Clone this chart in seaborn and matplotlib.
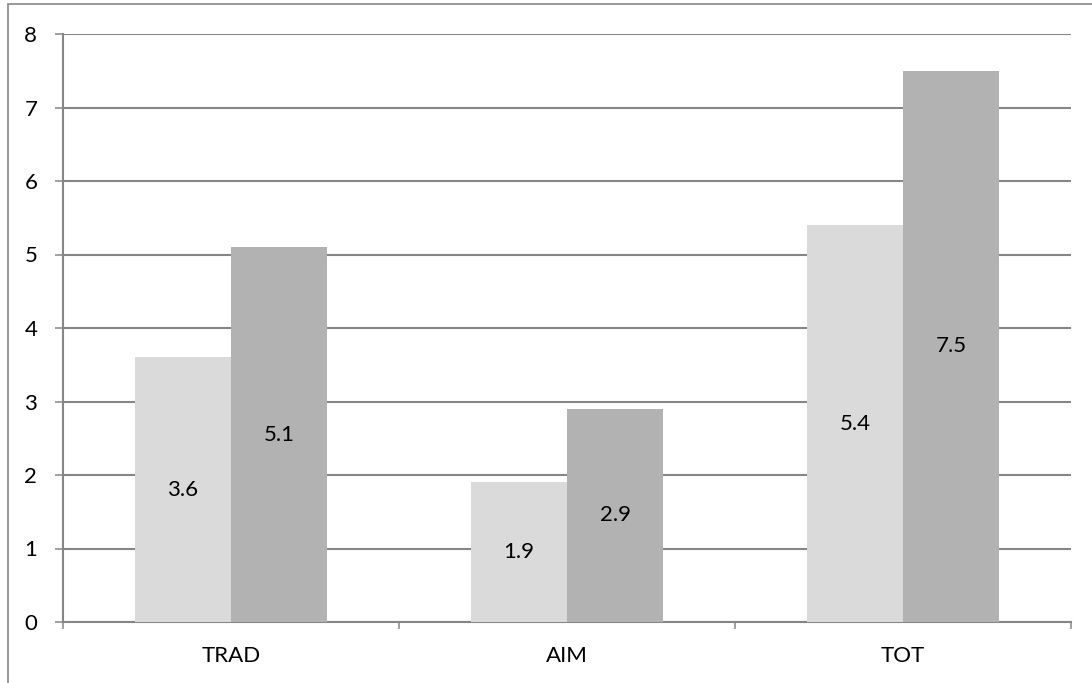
import matplotlib
matplotlib.use("Agg")
import matplotlib.pyplot as plt
import seaborn as sns
import pandas as pd
from matplotlib.patches import Rectangle
from matplotlib.ticker import FixedLocator

categories = ["TRAD", "AIM", "TOT"]
series_names = ["A", "B"]
values_a = [3.6, 1.9, 5.4]
values_b = [5.1, 2.9, 7.5]
y_ticks = [0, 1, 2, 3, 4, 5, 6, 7, 8]

df = pd.DataFrame({
    "cat": categories * 2,
    "series": [series_names[0]] * 3 + [series_names[1]] * 3,
    "value": values_a + values_b,
})

sns.set_theme(style="white")
plt.rcParams["font.family"] = ["Lato", "DejaVu Sans"]

GRID = "#868686"
FS = 16
fig = plt.figure(figsize=(10.92, 6.83), dpi=100)
ax = fig.add_axes([63 / 1092, 1 - 622 / 683, (1071 - 63) / 1092, (622 - 34) / 683])

sns.barplot(data=df, x="cat", y="value", hue="series", order=categories,
            palette=["#DADADA", "#B2B2B2"], width=0.572, saturation=1,
            linewidth=0, legend=False, ax=ax, zorder=3)

ax.set_xlim(-0.5, 2.5)
ax.set_ylim(0, 8)
ax.set_yticks(y_ticks)
ax.yaxis.grid(True, color=GRID, linewidth=1.5, zorder=0)
ax.set_axisbelow(True)
ax.set_xlabel("")
ax.set_ylabel("")

for s in ["top", "right"]:
    ax.spines[s].set_visible(False)
for s in ["left", "bottom"]:
    ax.spines[s].set_color(GRID)
    ax.spines[s].set_linewidth(1.5)

ax.tick_params(axis="y", which="major", direction="out", length=5.5, width=1.1,
               color=GRID, pad=13, labelsize=FS, labelcolor="black", left=True)
ax.tick_params(axis="x", which="major", length=0, pad=17, labelsize=FS,
               labelcolor="black")
ax.xaxis.set_minor_locator(FixedLocator([-0.5, 0.5, 1.5, 2.5]))
ax.tick_params(axis="x", which="minor", direction="out", length=5, width=1.1,
               color=GRID, bottom=True)

for container in ax.containers:
    ax.bar_label(container, labels=[f"{b.get_height():.1f}" for b in container],
                 label_type="center", fontsize=FS, color="black")

# chart frame
fig.patches.append(Rectangle((8 / 1092, -0.1), 1.2, 1.1 - 4 / 683,
                             transform=fig.transFigure, fill=False,
                             edgecolor=GRID, linewidth=1.2))

fig.savefig("out.png", dpi=100)
